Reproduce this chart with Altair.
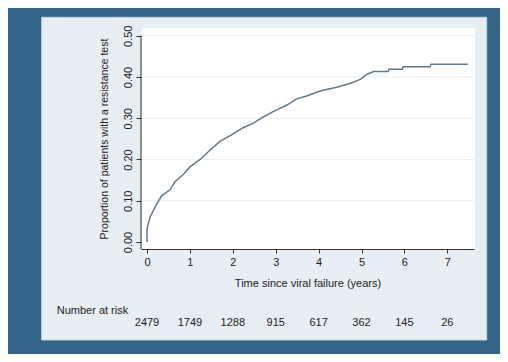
import altair as alt
import pandas as pd

# Kaplan-Meier style cumulative proportion
time_years = [0, 0, 0.03, 0.07, 0.19, 0.34, 0.54, 0.65, 0.85, 1.0, 1.24, 1.47, 1.70,
              2.01, 2.24, 2.48, 2.71, 2.94, 3.26, 3.49, 3.72, 4.03, 4.42, 4.73, 4.97,
              5.12, 5.28, 5.62, 5.64, 5.95, 5.97, 6.60, 6.62, 7.48]
proportion = [0, 0.03, 0.045, 0.06, 0.085, 0.112, 0.127, 0.146, 0.164, 0.182, 0.200,
              0.223, 0.244, 0.262, 0.277, 0.288, 0.303, 0.316, 0.332, 0.347, 0.354,
              0.366, 0.375, 0.384, 0.394, 0.406, 0.413, 0.413, 0.419, 0.419, 0.425,
              0.425, 0.431, 0.431]

risk_times = [0, 1, 2, 3, 4, 5, 6, 7]
number_at_risk = [2479, 1749, 1288, 915, 617, 362, 145, 26]

x_ticks = [0, 1, 2, 3, 4, 5, 6, 7]
y_ticks = [0.0, 0.1, 0.2, 0.3, 0.4, 0.5]

W, H = 333, 221
FONT = "Liberation Sans"
TXT = "#222222"

xs = alt.Scale(domain=[-0.14, 7.622], nice=False, zero=False)
ys = alt.Scale(domain=[-0.017, 0.5187], nice=False, zero=False)

xaxis = alt.Axis(values=x_ticks, title="Time since viral failure (years)", grid=False,
                 domainColor="#333333", tickColor="#333333", tickSize=4,
                 labelFontSize=11, labelPadding=3, labelColor=TXT, labelFlush=False,
                 titleFontSize=11, titlePadding=10, titleFontWeight="normal",
                 titleColor=TXT, zindex=1)
yaxis = alt.Axis(values=y_ticks, format=".2f",
                 title="Proportion of patients with a resistance test", grid=False,
                 domain=False, tickColor="#333333", tickSize=5, labelAngle=270,
                 labelAlign="center", labelBaseline="bottom", labelPadding=3,
                 labelFontSize=11, labelColor=TXT, labelOverlap=False,
                 titleFontSize=10.5, titlePadding=13, titleFontWeight="normal",
                 titleColor=TXT, zindex=1)

curve_df = pd.DataFrame({"t": time_years, "p": proportion})
risk_df = pd.DataFrame({"t": risk_times, "n": number_at_risk})
grid_df = pd.DataFrame({"p": y_ticks[1:]})
top_df = pd.DataFrame({"p": [y_ticks[-1]]})
one = pd.DataFrame({"a": [0]})

panel = alt.Chart(one).mark_rect(fill="#e8eff4", stroke="#c4d8e3", strokeWidth=1).encode(
    x=alt.value(-99.3), x2=alt.value(345.7), y=alt.value(-10.7), y2=alt.value(312))

white = alt.Chart(one).mark_rect(fill="#ffffff").encode(
    x=alt.value(1), x2=alt.value(W + 1), y=alt.value(0), y2=alt.value(H + 1))

grid = alt.Chart(grid_df).mark_rule(color="#e9eff3", strokeWidth=1).encode(
    y=alt.Y("p:Q", scale=ys, axis=yaxis), x=alt.value(1), x2=alt.value(W))

yline = alt.Chart(top_df).mark_rule(color="#333333", strokeWidth=1).encode(
    x=alt.value(0), y=alt.Y("p:Q", scale=ys, axis=yaxis), y2=alt.value(H))

curve = alt.Chart(curve_df).mark_line(color="#667888", strokeWidth=1.5).encode(
    x=alt.X("t:Q", scale=xs, axis=xaxis),
    y=alt.Y("p:Q", scale=ys, axis=yaxis),
)

risk = alt.Chart(risk_df).mark_text(fontSize=11, color=TXT, baseline="middle").encode(
    x=alt.X("t:Q", scale=xs, axis=xaxis), y=alt.value(295), text="n:Q")

risk_label = alt.Chart(one).mark_text(fontSize=11, color=TXT, align="left",
                                      baseline="middle", text="Number at risk").encode(
    x=alt.value(-84.3), y=alt.value(283))

chart = alt.layer(panel, white, grid, yline, curve, risk, risk_label).properties(
    width=W, height=H,
    padding={"left": 133, "top": 20, "right": 26, "bottom": 105},
    autosize=alt.AutoSizeParams(type="none"),
    background="#336487",
).configure_view(strokeWidth=0).configure(font=FONT)

chart.save("out.html", embed_options={"renderer": "svg", "actions": False})
